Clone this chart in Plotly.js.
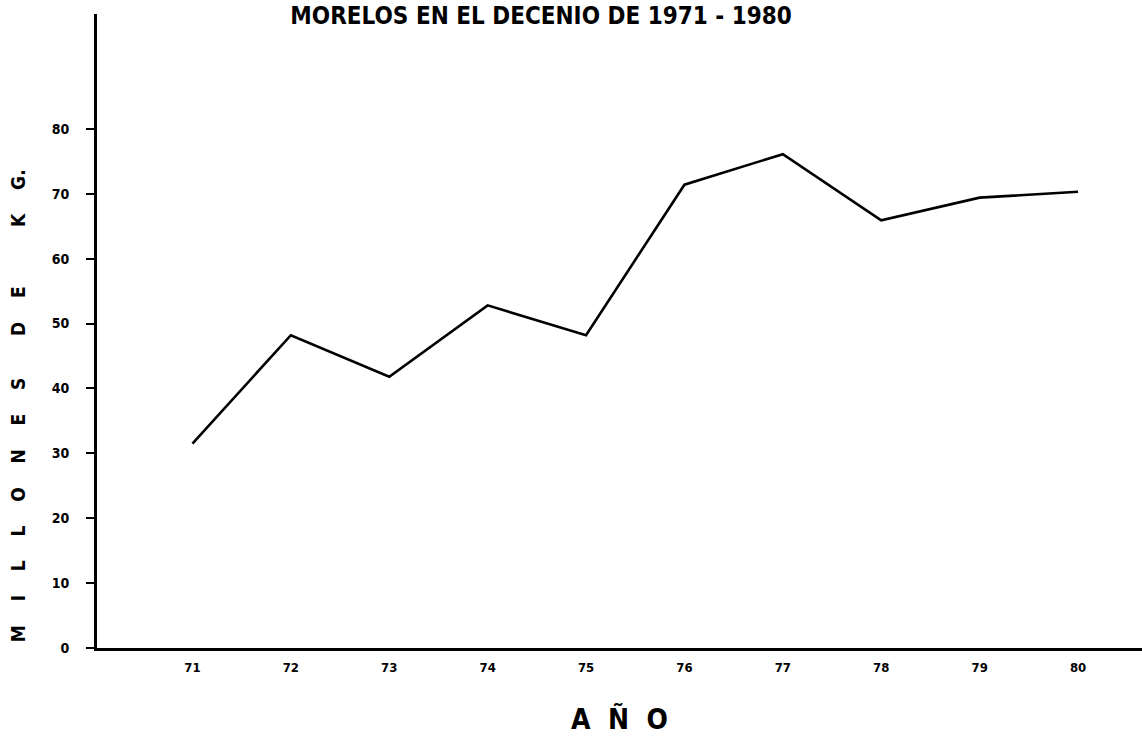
<!DOCTYPE html>
<html>
<head>
<meta charset="utf-8">
<script src="https://cdn.plot.ly/plotly-3.0.1.min.js"></script>
<style>html,body{margin:0;padding:0;background:#fff;}#chart{width:1142px;height:747px;}</style>
</head>
<body>
<div id="chart"></div>
<script>
// Data
const years = [71, 72, 73, 74, 75, 76, 77, 78, 79, 80];
const yearLabels = ["71", "72", "73", "74", "75", "76", "77", "78", "79", "80"];
const production = [31.5, 48.2, 41.8, 52.8, 48.2, 71.4, 76.1, 65.9, 69.4, 70.3];
const yTickVals = [0, 10, 20, 30, 40, 50, 60, 70, 80];
const yTickText = ["0", "10", "20", "30", "40", "50", "60", "70", "80"];
const titleText = "MORELOS EN EL DECENIO DE 1971 - 1980";
const yTitleWords = ["MILLONES", "DE", "KG"];
const xTitleText = "AÑO";

const FONT = '"DejaVu Sans Condensed", "Liberation Sans Narrow", "Liberation Sans", sans-serif';
const NB = '\u00A0';
function spaced(word, n) {
  return Array.from(word).join(NB.repeat(n));
}
const yTitle = spaced(yTitleWords[0], 4) + NB.repeat(7) +
               spaced(yTitleWords[1], 4) + NB.repeat(10) +
               spaced(yTitleWords[2], 4) + '.';

const trace = {
  x: years,
  y: production,
  type: 'scatter',
  mode: 'lines',
  line: {color: '#000', width: 2.6},
  hoverinfo: 'skip'
};

const layout = {
  width: 1142,
  height: 747,
  paper_bgcolor: '#fff',
  plot_bgcolor: '#fff',
  showlegend: false,
  margin: {l: 97, r: 0, t: 14, b: 99, pad: 0},
  title: {
    text: '<b>' + titleText + '</b>',
    font: {family: FONT, size: 24, color: '#000'},
    x: 0.425, xanchor: 'center', xref: 'paper',
    y: 0.99, yanchor: 'top', yref: 'container'
  },
  xaxis: {
    range: [70.03, 80.65],
    tickvals: years,
    ticktext: yearLabels,
    ticks: '',
    showgrid: false,
    zeroline: false,
    showline: true,
    linecolor: '#000',
    linewidth: 3,
    tickfont: {family: FONT, size: 13, color: '#000', weight: 'bold'},
    ticklabelstandoff: 5,
    title: {
      text: '<b>' + spaced(xTitleText, 2) + '</b>',
      font: {family: FONT, size: 28, color: '#000'},
      standoff: 36
    },
    fixedrange: true
  },
  yaxis: {
    range: [0, 97.7],
    tickvals: yTickVals,
    ticktext: yTickText,
    ticks: 'outside',
    ticklen: 8,
    tickwidth: 2,
    tickcolor: '#000',
    showgrid: false,
    zeroline: false,
    showline: true,
    linecolor: '#000',
    linewidth: 3,
    tickfont: {family: FONT, size: 14, color: '#000', weight: 'bold'},
    ticklabelstandoff: 14,
    fixedrange: true
  },
  annotations: [{
    text: '<b>' + yTitle + '</b>',
    textangle: -90,
    xref: 'paper', yref: 'paper',
    x: -0.0756, y: 0.383,
    xanchor: 'center', yanchor: 'middle',
    showarrow: false,
    font: {family: FONT, size: 19, color: '#000'}
  }]
};

Plotly.newPlot('chart', [trace], layout, {displayModeBar: false, staticPlot: true});
</script>
</body>
</html>
